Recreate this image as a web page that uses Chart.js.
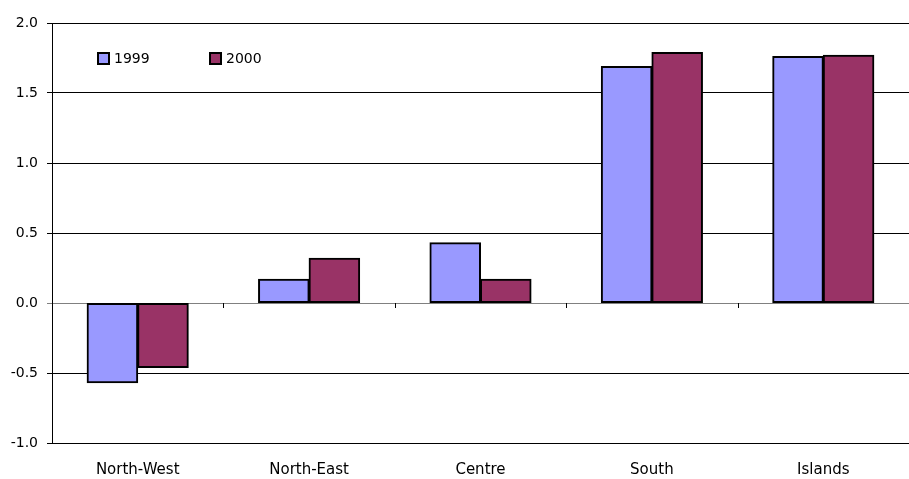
<!DOCTYPE html>
<html>
<head>
<meta charset="utf-8">
<script src="https://cdn.jsdelivr.net/npm/chart.js@4/dist/chart.umd.min.js"></script>
<style>
  html, body { margin: 0; padding: 0; background: #fff; }
  #wrap { width: 909px; height: 479px; position: relative; }
</style>
</head>
<body>
<div id="wrap"><canvas id="chart"></canvas></div>
<script>
// ── Data ─────────────────────────────────────────────────
const REGIONS     = ['North-West', 'North-East', 'Centre', 'South', 'Islands'];
const VALUES_1999 = [-0.57, 0.17, 0.43, 1.69, 1.76];
const VALUES_2000 = [-0.46, 0.32, 0.17, 1.79, 1.77];
const SERIES_LABELS = ['1999', '2000'];
const SERIES_COLORS = ['#9999ff', '#993366'];

const FONT = "'DejaVu Sans', sans-serif";

// small ticks on the zero line between categories + legend inside plot
const zeroAxisPlugin = {
  id: 'zeroAxis',
  afterDatasetsDraw(chart) {
    const { ctx, scales: { x, y } } = chart;
    const y0 = y.getPixelForValue(0);
    ctx.save();
    ctx.strokeStyle = '#000';
    ctx.lineWidth = 1;
    for (let i = 1; i < REGIONS.length; i++) {
      const px = Math.round((x.getPixelForValue(i - 1) + x.getPixelForValue(i)) / 2) + 0.5;
      ctx.beginPath(); ctx.moveTo(px, y0); ctx.lineTo(px, y0 + 5); ctx.stroke();
    }
    ctx.restore();
  },
  afterDraw(chart) {
    const { ctx } = chart;
    ctx.save();
    ctx.font = '14px ' + FONT;
    ctx.textBaseline = 'middle';
    const xs = [98, 210];
    chart.data.datasets.forEach((ds, i) => {
      ctx.fillStyle = ds.backgroundColor;
      ctx.fillRect(xs[i], 53, 11, 11);
      ctx.strokeStyle = '#000';
      ctx.lineWidth = 2;
      ctx.strokeRect(xs[i], 53, 11, 11);
      ctx.fillStyle = '#000';
      ctx.fillText(ds.label, xs[i] + 16, 59);
    });
    ctx.restore();
  },
};

new Chart(document.getElementById('chart'), {
  type: 'bar',
  data: {
    labels: REGIONS,
    datasets: [
      { label: SERIES_LABELS[0], data: VALUES_1999, backgroundColor: SERIES_COLORS[0], borderColor: '#000', borderWidth: 2, borderSkipped: false, inflateAmount: 0.5 },
      { label: SERIES_LABELS[1], data: VALUES_2000, backgroundColor: SERIES_COLORS[1], borderColor: '#000', borderWidth: 2, borderSkipped: false, inflateAmount: 0.5 },
    ],
  },
  options: {
    responsive: true, maintainAspectRatio: false, animation: false,
    layout: { padding: { top: 23, right: 0, left: 0, bottom: 0 } },
    datasets: { bar: { categoryPercentage: 0.59, barPercentage: 1.0 } },
    plugins: { legend: { display: false }, tooltip: { enabled: false } },
    scales: {
      x: {
        grid: { display: false },
        border: { display: false },
        ticks: { color: '#000', font: { family: FONT, size: 15 }, padding: 10 },
        afterFit: s => { s.height = 36; },
      },
      y: {
        min: -1, max: 2,
        ticks: { stepSize: 0.5, color: '#000', font: { family: FONT, size: 14 }, padding: 9,
                 callback: v => v.toFixed(1) },
        grid: {
          color: ctx => ctx.tick && ctx.tick.value === 0 ? '#808080' : '#000',
          lineWidth: 1, tickLength: 5,
        },
        border: { color: '#000', width: 1 },
        afterFit: s => { s.width = 52; },
      },
    },
  },
  plugins: [zeroAxisPlugin],
});
</script>
</body>
</html>
